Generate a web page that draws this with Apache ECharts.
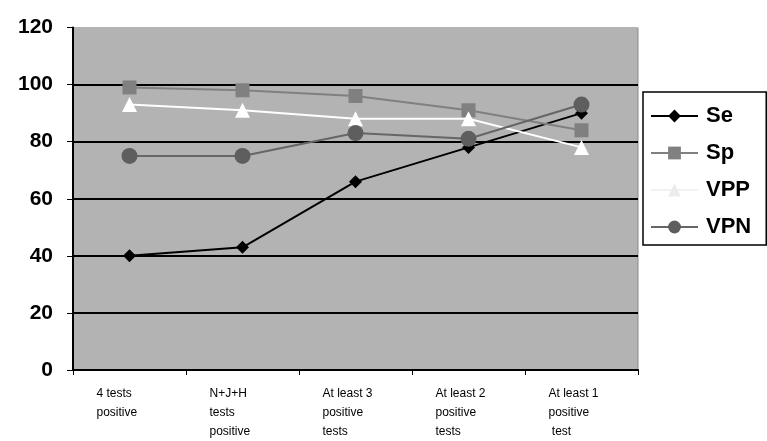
<!DOCTYPE html>
<html><head><meta charset="utf-8">
<script src="https://cdn.jsdelivr.net/npm/echarts@6/dist/echarts.min.js"></script>
<style>html,body{margin:0;padding:0;background:#fff}#c{width:767px;height:441px}</style>
</head><body><div id="c"></div>
<script>
const categories = ['4 tests\npositive', 'N+J+H\ntests\npositive', 'At least 3\npositive\ntests', 'At least 2\npositive\ntests', 'At least 1\npositive\n test'];
const seValues = [40, 43, 66, 78, 90];
const spValues = [99, 98, 96, 91, 84];
const vppValues = [93, 91, 88, 88, 78];
const vpnValues = [75, 75, 83, 81, 93];
const yTicks = [0, 20, 40, 60, 80, 100, 120];

const chart = echarts.init(document.getElementById('c'), null, {renderer: 'canvas'});
const mk = (name, data, color, lineColor, symbol, size) => ({
  name, type: 'line', data, symbol, symbolSize: size,
  lineStyle: {color: lineColor, width: 2},
  itemStyle: {color: color, borderWidth: 0},
  emphasis: {disabled: true}
});
chart.setOption({
  animation: false,
  backgroundColor: '#ffffff',
  grid: {left: 73, right: 129, top: 27.5, bottom: 69.5, show: true, backgroundColor: '#b3b3b3', borderColor: '#8a8a8a', borderWidth: 1},
  legend: {
    left: 643, top: 92, orient: 'vertical', itemGap: 15, itemWidth: 47, itemHeight: 16,
    backgroundColor: '#ffffff', borderColor: '#000', borderWidth: 1.5, padding: [13, 15, 7, 7],
    textStyle: {fontFamily: 'Liberation Sans, Arial', fontWeight: 'bold', fontSize: 22, color: '#000', padding: [0, 0, 0, 3]},
    data: [
      {name: 'Se'}, {name: 'Sp'}, {name: 'VPP', itemStyle: {color: '#ececec'}, lineStyle: {color: '#f2f2f2'}}, {name: 'VPN'}
    ]
  },
  xAxis: {
    type: 'category', data: categories, boundaryGap: true,
    axisLine: {lineStyle: {color: '#000', width: 2}},
    axisTick: {show: true, alignWithLabel: false, length: 5, lineStyle: {color: '#000'}},
    axisLabel: {interval: 0, fontFamily: 'Liberation Sans, Arial', fontSize: 12, color: '#000', lineHeight: 19, margin: 14,
      formatter: v => '{a|' + v.split('\n').join('}\n{a|') + '}',
      rich: {a: {width: 66, align: 'left', fontSize: 12, lineHeight: 19, fontFamily: 'Liberation Sans, Arial'}}
    }
  },
  yAxis: {
    type: 'value', min: 0, max: 120, interval: 20,
    axisLine: {show: true, lineStyle: {color: '#000', width: 2}},
    axisTick: {show: true, length: 6, lineStyle: {color: '#000'}},
    axisLabel: {fontFamily: 'Liberation Sans, Arial', fontWeight: 'bold', fontSize: 21, color: '#000', margin: 20,
      formatter: v => yTicks.includes(v) ? String(v) : ''},
    splitLine: {show: true, lineStyle: {color: ['#000', '#000', '#000', '#000', '#000', '#000', '#b3b3b3'], width: 2}}
  },
  series: [
    mk('Se', seValues, '#000000', '#000000', 'diamond', 13),
    mk('Sp', spValues, '#808080', '#808080', 'rect', 14),
    mk('VPP', vppValues, '#ffffff', '#ffffff', 'triangle', 15),
    mk('VPN', vpnValues, '#5e5e5e', '#666666', 'circle', 16)
  ]
});
</script></body></html>
